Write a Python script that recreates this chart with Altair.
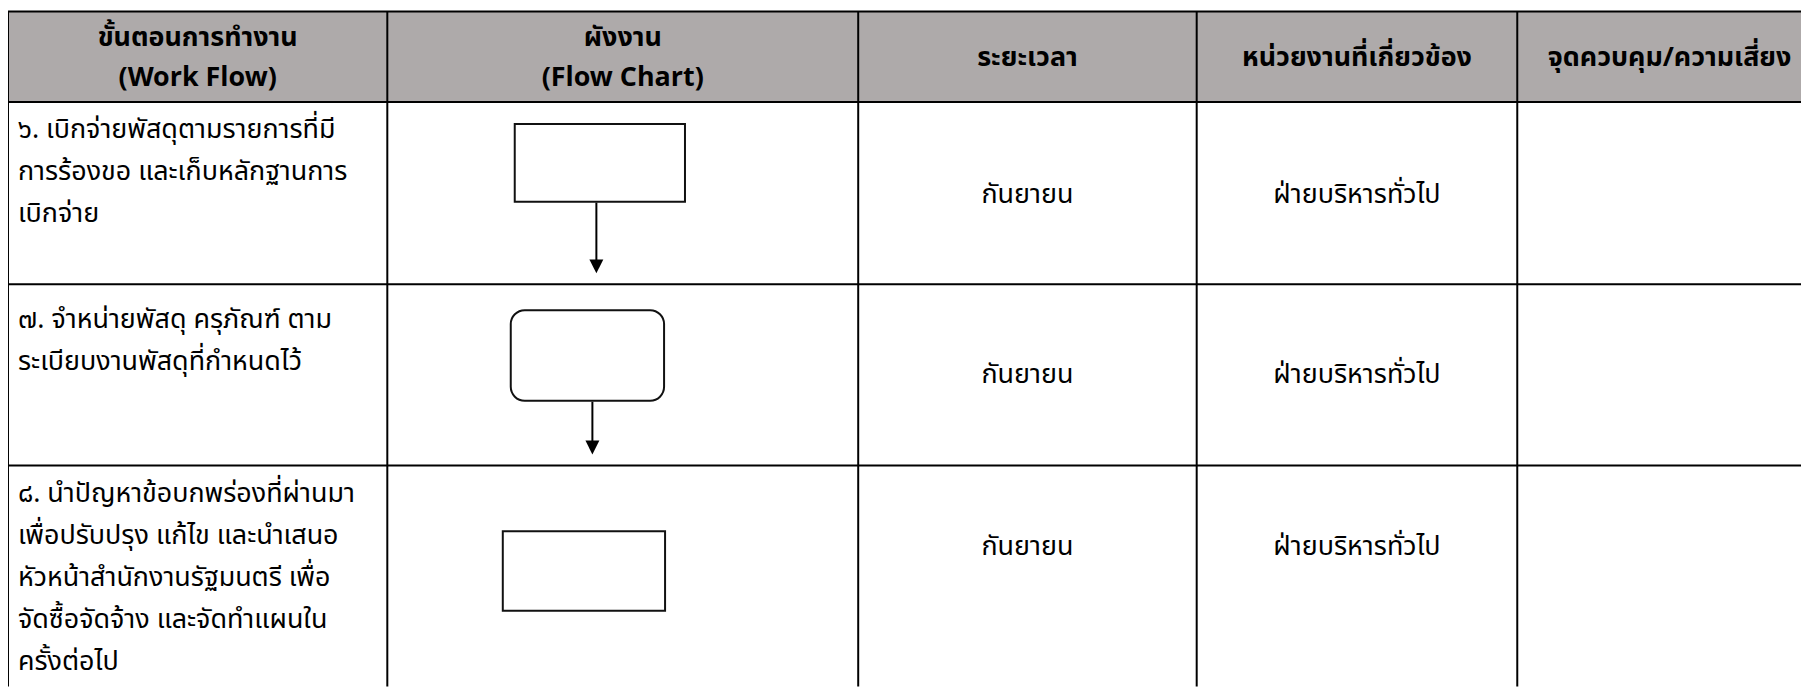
import altair as alt
import pandas as pd

# ---------------- data ----------------
HEADERS = [
    "ขั้นตอนการทำงาน\n(Work Flow)",
    "ผังงาน\n(Flow Chart)",
    "ระยะเวลา",
    "หน่วยงานที่เกี่ยวข้อง",
    "จุดควบคุม/ความเสี่ยง",
]
STEPS = [
    "๖. เบิกจ่ายพัสดุตามรายการที่มี\nการร้องขอ และเก็บหลักฐานการ\nเบิกจ่าย",
    "๗. จำหน่ายพัสดุ ครุภัณฑ์ ตาม\nระเบียบงานพัสดุที่กำหนดไว้",
    "๘. นำปัญหาข้อบกพร่องที่ผ่านมา\nเพื่อปรับปรุง แก้ไข และนำเสนอ\nหัวหน้าสำนักงานรัฐมนตรี เพื่อ\nจัดซื้อจัดจ้าง และจัดทำแผนใน\nครั้งต่อไป",
]
PERIODS = ["กันยายน", "กันยายน", "กันยายน"]
UNITS = ["ฝ่ายบริหารทั่วไป", "ฝ่ายบริหารทั่วไป", "ฝ่ายบริหารทั่วไป"]
CONTROLS = ["", "", ""]
SYMBOLS = ["process", "terminator", "process"]
HAS_ARROW = [True, True, False]

# ---------------- layout (page pixels) ----------------
COL_EDGES = [8, 389, 862, 1202, 1524, 1830]
ROW_EDGES = [10, 101, 284, 466, 720]
HEADER_CENTER = 57
HEADER_LINE_HEIGHT = 40
STEP_FIRST_BASELINE = [137, 328, 503]
STEP_LINE_HEIGHT = 42
CENTER_TEXT_Y = [194, 375, 548]
SYMBOL_BOX = [(517, 688, 123, 201), (513, 667, 310, 401), (505, 668, 532, 612)]
ARROW_X = [599, 595, 0]
ARROW_HEAD = 14

PAGE_W, PAGE_H, MARGIN = 1809, 688, 8
W, H = PAGE_W - MARGIN, PAGE_H - MARGIN
FONT = "Tahoma, 'Noto Sans Thai', 'Noto Sans Thai UI', 'Leelawadee UI', 'Noto Sans', sans-serif"
BODY_SIZE = 27
HEADER_SIZE = 27

xs = alt.Scale(domain=[MARGIN, PAGE_W], nice=False, zero=False)
ys = alt.Scale(domain=[MARGIN, PAGE_H], nice=False, zero=False, reverse=True)


def X(f):
    return alt.X(f, type="quantitative", scale=xs, axis=None)


def Y(f):
    return alt.Y(f, type="quantitative", scale=ys, axis=None)


# header background
hdr_bg = pd.DataFrame([{"x": COL_EDGES[0], "x2": COL_EDGES[-1], "y": ROW_EDGES[0], "y2": ROW_EDGES[1]}])
header_bg = alt.Chart(hdr_bg).mark_rect(color="#AEAAAA", clip=True).encode(
    x=X("x"), x2=alt.X2("x2"), y=Y("y"), y2=alt.Y2("y2")
)

# grid lines
hlines = pd.DataFrame([{"y": r, "x": COL_EDGES[0], "x2": COL_EDGES[-1]} for r in ROW_EDGES[:-1]])
vlines = pd.DataFrame([{"x": c, "y": ROW_EDGES[0], "y2": ROW_EDGES[-1]} for c in COL_EDGES[:-1]])
h_rule = alt.Chart(hlines).mark_rule(color="black", strokeWidth=2, clip=True).encode(
    x=X("x"), x2=alt.X2("x2"), y=Y("y")
)
v_rule = alt.Chart(vlines).mark_rule(color="black", strokeWidth=2, clip=True).encode(
    x=X("x"), y=Y("y"), y2=alt.Y2("y2")
)

# header text (multi-line blocks centred vertically in the header row)
hdr_df = pd.DataFrame({
    "text": HEADERS,
    "x": [(COL_EDGES[i] + COL_EDGES[i + 1]) / 2 for i in range(len(HEADERS))],
    "y": [HEADER_CENTER - (h.count("\n")) * HEADER_LINE_HEIGHT / 2 for h in HEADERS],
})
header_text = alt.Chart(hdr_df).mark_text(
    align="center", baseline="middle", font=FONT, fontSize=HEADER_SIZE, fontWeight="bold",
    lineBreak="\n", lineHeight=HEADER_LINE_HEIGHT, color="black", clip=True,
).encode(x=X("x"), y=Y("y"), text="text:N")

# step text (left column)
step_df = pd.DataFrame({
    "text": STEPS,
    "x": [COL_EDGES[0] + 10] * len(STEPS),
    "y": STEP_FIRST_BASELINE,
})
step_text = alt.Chart(step_df).mark_text(
    align="left", baseline="alphabetic", font=FONT, fontSize=BODY_SIZE,
    lineBreak="\n", lineHeight=STEP_LINE_HEIGHT, color="black", clip=True,
).encode(x=X("x"), y=Y("y"), text="text:N")

# centred columns
cen_rows = []
for i in range(len(STEPS)):
    cen_rows.append({"text": PERIODS[i], "x": (COL_EDGES[2] + COL_EDGES[3]) / 2, "y": CENTER_TEXT_Y[i]})
    cen_rows.append({"text": UNITS[i], "x": (COL_EDGES[3] + COL_EDGES[4]) / 2, "y": CENTER_TEXT_Y[i]})
    cen_rows.append({"text": CONTROLS[i], "x": (COL_EDGES[4] + COL_EDGES[5]) / 2, "y": CENTER_TEXT_Y[i]})
cen_df = pd.DataFrame(cen_rows)
center_text = alt.Chart(cen_df).mark_text(
    align="center", baseline="middle", font=FONT, fontSize=BODY_SIZE, color="black",
).encode(x=X("x"), y=Y("y"), text="text:N")

# flowchart symbols
sym_df = pd.DataFrame([
    {"kind": SYMBOLS[i], "x": b[0], "x2": b[1], "y": b[2], "y2": b[3]}
    for i, b in enumerate(SYMBOL_BOX)
])
proc = alt.Chart(sym_df[sym_df.kind == "process"]).mark_rect(
    fill="white", stroke="#111111", strokeWidth=2
).encode(x=X("x"), x2=alt.X2("x2"), y=Y("y"), y2=alt.Y2("y2"))
term = alt.Chart(sym_df[sym_df.kind == "terminator"]).mark_rect(
    fill="white", stroke="#111111", strokeWidth=2, cornerRadius=14
).encode(x=X("x"), x2=alt.X2("x2"), y=Y("y"), y2=alt.Y2("y2"))

# arrows: from the bottom of each symbol down to just above the next row line
arr_rows = []
for i, has in enumerate(HAS_ARROW):
    if has:
        tip = ROW_EDGES[i + 2] - 11
        arr_rows.append({"x": ARROW_X[i], "y": SYMBOL_BOX[i][3] + 1, "y2": tip - ARROW_HEAD + 1,
                         "yh": tip - ARROW_HEAD / 2})
arr_df = pd.DataFrame(arr_rows)
shaft = alt.Chart(arr_df).mark_rule(color="black", strokeWidth=2).encode(
    x=X("x"), y=Y("y"), y2=alt.Y2("y2")
)
head = alt.Chart(arr_df).mark_point(
    shape="M-1,-1L1,-1L0,1Z", size=ARROW_HEAD * ARROW_HEAD, filled=True,
    color="black", opacity=1, strokeWidth=0,
).encode(x=X("x"), y=Y("yh"))

chart = alt.layer(
    header_bg, h_rule, v_rule, header_text, step_text, center_text, proc, term, shaft, head
).properties(
    width=W, height=H, padding=0, autosize=alt.AutoSizeParams(type="none"),
    background="white",
).configure_view(stroke=None)

chart.save("out.html", embed_options={"renderer": "svg", "actions": False})
